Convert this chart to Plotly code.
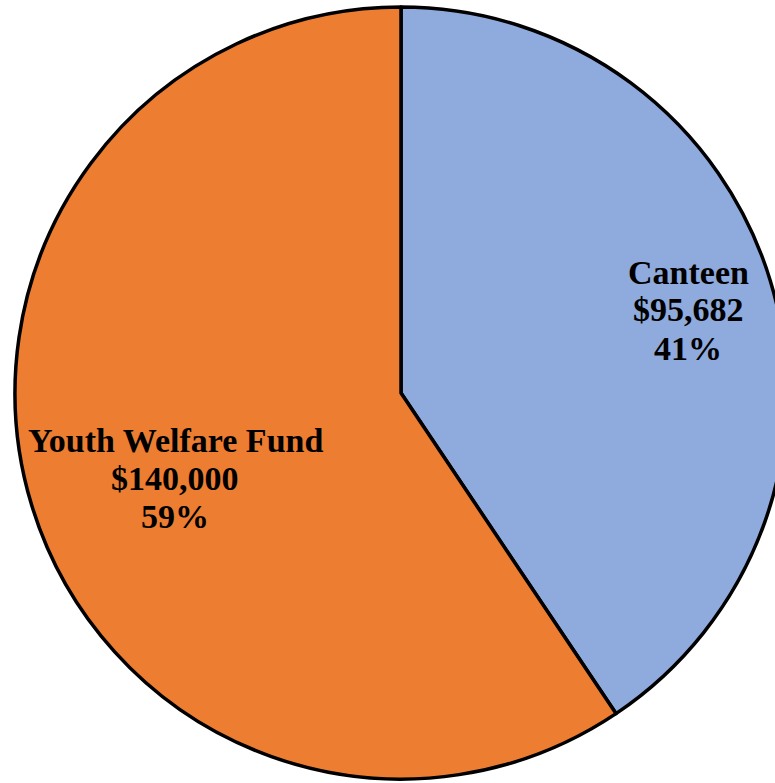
import plotly.graph_objects as go

# Fund sources
labels = ["Canteen", "Youth Welfare Fund"]
values = [95682, 140000]
colors = ["#8FAADC", "#ED7D31"]

# Label line centres in pixels (x, y of each line block)
label_pos = {
    "Canteen": (688, 272),
    "Youth Welfare Fund": (175, 440),
}

W, H = 802, 783
cx, cy, r = 401, 393, 386

total = sum(values)

fig = go.Figure(
    go.Pie(
        labels=labels,
        values=values,
        sort=False,
        direction="clockwise",
        rotation=0,
        marker=dict(colors=colors, line=dict(color="black", width=3.5)),
        textinfo="none",
        hoverinfo="label+value+percent",
        showlegend=False,
        domain=dict(
            x=[(cx - r) / W, (cx + r) / W],
            y=[1 - (cy + r) / H, 1 - (cy - r) / H],
        ),
    )
)

font = dict(family="Liberation Serif", size=34, color="black")
line_gap = 38
for lab, val in zip(labels, values):
    lines = [lab, f"${val:,}", f"{round(100 * val / total)}%"]
    x0, y0 = label_pos[lab]
    for i, t in enumerate(lines):
        fig.add_annotation(
            text=f"<b>{t}</b>",
            x=x0 / W,
            y=1 - (y0 + i * line_gap) / H,
            xref="paper",
            yref="paper",
            xanchor="center",
            yanchor="middle",
            showarrow=False,
            font=font,
        )

fig.update_layout(
    width=W,
    height=H,
    margin=dict(l=0, r=0, t=0, b=0),
    paper_bgcolor="white",
    plot_bgcolor="white",
)

fig.write_html(
    "out.html",
    post_script="document.body.style.margin='0';document.body.style.overflow='hidden';",
)
